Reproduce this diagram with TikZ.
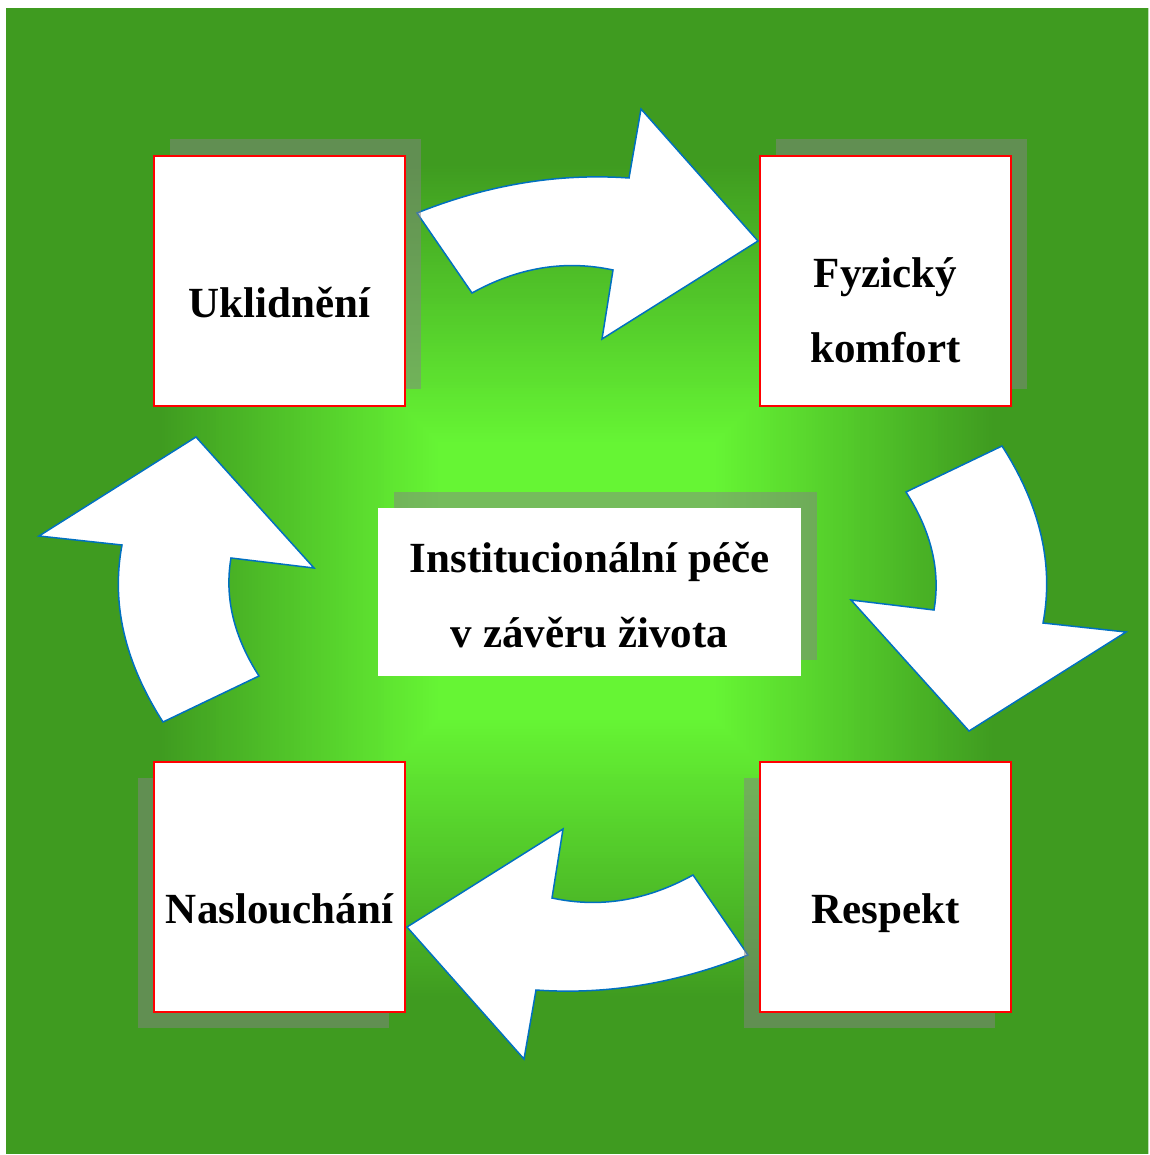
\documentclass[tikz,border=0pt]{standalone}
\usepackage{fontspec}
\setmainfont{Liberation Serif}
\usetikzlibrary{shadows}

\definecolor{bgdark}{RGB}{63,155,32}
\definecolor{bglight}{RGB}{102,245,52}
\definecolor{shadegray}{RGB}{132,132,132}
\definecolor{arrowblue}{RGB}{0,112,192}

\tikzset{
  box/.style={draw=red, line width=1.75pt, fill=white, minimum width=251pt, minimum height=250pt, inner sep=0pt},
  topshade/.style={drop shadow={shadow xshift=16pt, shadow yshift=17pt, fill=shadegray, opacity=0.5}},
  lowshade/.style={drop shadow={shadow xshift=-16pt, shadow yshift=-16pt, fill=shadegray, opacity=0.5}},
  lbl/.style={font=\fontsize{43}{75}\selectfont\bfseries, align=center, anchor=base},
  bigarrow/.style={draw=arrowblue, line width=1.5pt, fill=white, line join=miter}
}

\begin{document}
\begin{tikzpicture}[x=1pt, y=-1pt]
        \useasboundingbox (0,0) rectangle (1149,1155);

        % background, brightest in the middle
        \begin{scope}
          \clip (6,9) rectangle (1148,1153);
          \foreach \s in {580,577,...,1} {
            \pgfmathtruncatemacro\p{min(100,max(0,(420-\s)/2.8))}
            \fill[bglight!\p!bgdark] ({577-\s},{581-\s}) rectangle ({577+\s},{581+\s});
          }
        \end{scope}

        % arrows going round clockwise
        \draw[bigarrow] (417,213) .. controls (487.7,184.7) and (558.3,173) .. (629,178) -- (641,109) -- (758,241)
          -- (602,339) -- (613,270) .. controls (565.3,259.7) and (518.3,267.3) .. (472,293) -- cycle;
        \draw[bigarrow] (906,492) .. controls (931.3,531.3) and (940.7,570.7) .. (934,610) -- (851,600) -- (969,731)
          -- (1126,632) -- (1043,623) .. controls (1054,564.7) and (1040.3,505.7) .. (1002,446) -- cycle;
        \draw[bigarrow] (748,955) .. controls (677.3,983.3) and (606.7,995) .. (536,990) -- (524,1059) -- (407,927)
          -- (563,829) -- (552,898) .. controls (599.7,908.3) and (646.7,900.7) .. (693,875) -- cycle;
        \draw[bigarrow] (259,676) .. controls (233.7,636.7) and (224.3,597.3) .. (231,558) -- (314,568) -- (196,437)
          -- (39,536) -- (122,545) .. controls (111,603.3) and (124.7,662.3) .. (163,722) -- cycle;

        % the four boxes
        \node[box, topshade] (ukl) at (279.5,281) {};
        \node[box, topshade] (fyz) at (885.5,281) {};
        \node[box, lowshade] (resp) at (885.5,887) {};
        \node[box, lowshade] (nasl) at (279.5,887) {};

        % middle box
        \node[fill=white, drop shadow={shadow xshift=16pt, shadow yshift=16pt, fill=shadegray, opacity=0.5},
          minimum width=423pt, minimum height=168pt, inner sep=0pt] (inst) at (589.5,592) {};

        % texts (base is the last line)
        \node[lbl] (ukltext) at (279.5,317) {Uklidnění};
        \node[lbl] (fyztext) at (885.5,362) {Fyzický\\komfort};
        \node[lbl] (resptext) at (885.5,923) {Respekt};
        \node[lbl] (nasltext) at (279.5,923) {Naslouchání};
        \node[lbl] (insttext) at (589.5,647) {Institucionální péče\\v závěru života};

      \end{tikzpicture}
\end{document}
